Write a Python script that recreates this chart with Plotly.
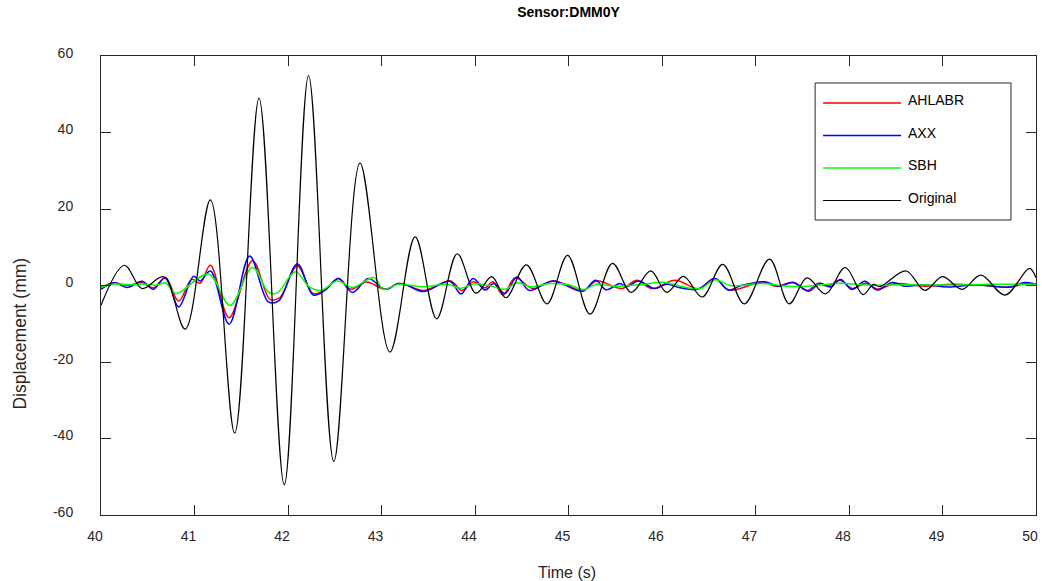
import plotly.graph_objects as go

# Time (s) / displacement (mm) samples at the turning points of each record
t_orig = [40.00, 40.25, 40.44, 40.67, 40.90, 41.17, 41.43, 41.69, 41.96, 42.22,
          42.49, 42.77, 43.09, 43.36, 43.59, 43.81, 44.01, 44.18, 44.33, 44.55,
          44.77, 44.99, 45.23, 45.47, 45.67, 45.88, 46.05, 46.23, 46.43, 46.65,
          46.88, 47.15, 47.36, 47.55, 47.75, 47.96, 48.15, 48.26, 48.33, 48.61,
          48.81, 49.00, 49.21, 49.41, 49.67, 49.93, 50.00]
d_orig = [-5.2, 5.3, -0.8, 2.3, -11.4, 22.4, -38.6, 49.0, -52.1, 54.9,
          -46.0, 32.0, -17.4, 12.7, -8.7, 8.3, -2.0, 2.3, -3.2, 5.4,
          -4.8, 7.9, -7.5, 5.8, -1.8, 3.8, -1.8, 2.4, -3.0, 5.5,
          -4.8, 6.9, -4.8, 2.0, -2.2, 4.7, -2.4, 0.3, -0.3, 3.8,
          -1.3, 2.3, -1.0, 2.7, -2.5, 4.5, 2.0]

t_ahlabr = [40.00, 40.14, 40.28, 40.44, 40.56, 40.69, 40.83, 40.97, 41.06, 41.17,
            41.37, 41.62, 41.81, 41.91, 42.10, 42.27, 42.40, 42.54, 42.67, 42.84,
            43.04, 43.18, 43.27, 43.45, 43.74, 43.86, 43.98, 44.11, 44.19, 44.30,
            44.43, 44.62, 44.84, 45.16, 45.30, 45.57, 45.73, 45.89, 46.14, 46.39,
            46.56, 46.72, 47.08, 47.22, 47.41, 47.55, 47.67, 47.77, 47.90, 48.04,
            48.18, 48.30, 48.50, 48.80, 49.10, 49.40, 49.74, 49.88, 50.00]
d_ahlabr = [-0.5, 0.7, 0.0, 0.7, -0.6, 2.1, -4.1, 1.6, 0.6, 5.3,
            -8.4, 6.5, -3.7, -3.2, 5.1, -2.1, -1.0, 1.8, -1.0, 0.9,
            -1.0, 0.5, 0.1, -1.3, 1.2, -1.3, 1.0, -0.6, 1.0, -2.5,
            2.0, -0.8, 1.2, -1.3, 1.2, -0.8, 1.4, -0.8, 1.4, -0.8,
            1.8, -1.2, 0.9, -0.2, 0.8, -1.3, 0.5, -0.2, 1.4, -0.8,
            0.6, -0.9, 0.5, -0.2, 0.3, 0.1, -0.4, 0.5, 0.2]

t_axx = [40.00, 40.14, 40.28, 40.44, 40.56, 40.69, 40.83, 40.99, 41.06, 41.17,
         41.37, 41.59, 41.79, 41.90, 42.10, 42.27, 42.40, 42.54, 42.69, 42.86,
         43.04, 43.18, 43.27, 43.45, 43.73, 43.85, 43.98, 44.11, 44.20, 44.32,
         44.45, 44.58, 44.83, 45.15, 45.29, 45.40, 45.55, 45.62, 45.75, 45.92,
         46.05, 46.18, 46.38, 46.57, 46.71, 46.85, 47.10, 47.25, 47.40, 47.57,
         47.69, 47.80, 47.91, 48.03, 48.17, 48.30, 48.46, 48.60, 48.80, 49.06,
         49.35, 49.72, 49.88, 50.00]
d_axx = [-1.0, 0.7, -0.5, 1.1, -1.0, 2.1, -5.6, 2.4, 1.2, 3.8,
         -10.1, 7.7, -4.3, -4.0, 5.6, -2.5, -1.2, 1.8, -1.8, 1.8,
         -1.0, 0.5, 0.1, -1.6, 1.1, -2.2, 1.8, -1.2, 0.5, -2.1,
         2.2, -1.3, 1.2, -1.5, 1.4, -1.1, 0.5, -0.3, 1.2, -0.8,
         0.3, -0.5, -1.0, 1.8, -1.2, 0.0, 1.0, -0.2, 0.8, -1.5,
         0.6, -0.4, 1.6, -1.0, 1.1, -1.2, 0.8, -0.2, 0.2, -0.4,
         0.2, -0.4, 0.8, 0.4]

t_sbh = [40.00, 40.14, 40.30, 40.45, 40.60, 40.69, 40.80, 41.15, 41.38, 41.62,
         41.79, 41.88, 42.08, 42.22, 42.35, 42.53, 42.69, 42.92, 43.02, 43.18,
         43.45, 43.70, 43.85, 43.98, 44.15, 44.32, 44.45, 44.60, 44.80, 45.00,
         45.16, 45.30, 45.50, 45.75, 46.03, 46.20, 46.41, 46.57, 46.73, 47.08,
         47.30, 47.55, 47.90, 48.20, 48.60, 49.00, 49.50, 50.00]
d_sbh = [-0.5, 0.4, 0.2, 0.4, 0.1, 0.7, -2.1, 3.0, -5.2, 4.7,
         -1.7, -2.0, 3.6, -0.2, -1.3, 1.2, -0.5, 2.1, -1.0, 0.3,
         -0.3, 0.3, -0.7, 0.4, 0.0, -1.0, 0.7, -0.3, 0.5, 0.2,
         -1.1, 0.3, -0.2, 0.2, 0.8, -0.2, -0.8, 1.5, 0.0, 0.5,
         -0.1, -0.2, 0.6, 0.1, 0.2, 0.1, 0.3, 0.3]

series = [
    ("AHLABR", t_ahlabr, d_ahlabr, "#ff0000", 1.5),
    ("AXX", t_axx, d_axx, "#0000ff", 1.5),
    ("SBH", t_sbh, d_sbh, "#00ff00", 1.5),
    ("Original", t_orig, d_orig, "#000000", 1.2),
]

title_text = "Sensor:DMM0Y"
x_label = "Time (s)"
y_label = "Displacement (mm)"
x_ticks = list(range(40, 51))
y_ticks = [-60, -40, -20, 0, 20, 40, 60]

W, H = 1042, 581
L, R, T, B = 100.5, 1036, 56, 515  # plot box in pixels

fig = go.Figure()
# Original drawn last so it sits on top
for name, t, d, color, width in series:
    fig.add_trace(go.Scatter(
        x=t, y=d, name=name, mode="lines",
        line=dict(color=color, width=width, shape="spline", smoothing=1.0),
        showlegend=False,
    ))


def px(xp):
    return (xp - L) / (R - L)


def py(yp):
    return (B - yp) / (B - T)


# Boxed legend with long line samples
shapes = [dict(type="rect", xref="paper", yref="paper",
               x0=px(815), x1=px(1011), y0=py(220), y1=py(83),
               line=dict(color="#262626", width=1), fillcolor="white", layer="above")]
annotations = []
row_y = [103, 135.5, 168, 200.5]
for (name, _, _, color, width), ry in zip(series, row_y):
    shapes.append(dict(type="line", xref="paper", yref="paper",
                       x0=px(823), x1=px(901), y0=py(ry), y1=py(ry),
                       line=dict(color=color, width=width), layer="above"))
    annotations.append(dict(xref="paper", yref="paper", x=px(906), y=py(ry - 3),
                            text=name, showarrow=False, xanchor="left", yanchor="middle",
                            font=dict(size=14, color="#000000")))

# Axis labels placed at fixed positions around the box
annotations.append(dict(xref="paper", yref="paper", x=px(19), y=py(334),
                        text=y_label, textangle=-90, showarrow=False,
                        xanchor="center", yanchor="middle",
                        font=dict(size=17.5, color="#262626")))
annotations.append(dict(xref="paper", yref="paper", x=px(567), y=py(572),
                        text=x_label, showarrow=False,
                        xanchor="center", yanchor="middle",
                        font=dict(size=16, color="#262626")))

axis_common = dict(
    showline=True, linecolor="#262626", linewidth=1, mirror="allticks",
    ticks="inside", ticklen=10, tickcolor="#262626", tickwidth=1,
    showgrid=False, zeroline=False, automargin=False,
    tickfont=dict(size=14, color="#262626"),
)

fig.update_layout(
    width=W, height=H,
    margin=dict(l=L, r=W - R, t=T, b=H - B, autoexpand=False),
    paper_bgcolor="white", plot_bgcolor="white",
    font=dict(family="Liberation Sans, Arial, sans-serif", color="#262626"),
    title=dict(text="<b>" + title_text + "</b>", x=0.5, xref="paper", xanchor="center",
               y=1 - 12 / H, yref="container", yanchor="middle",
               font=dict(size=14, color="#000000")),
    xaxis=dict(range=[40, 50], tickvals=x_ticks, ticktext=[str(v) for v in x_ticks],
               ticklabelstandoff=8, ticklabelshift=-6, **axis_common),
    yaxis=dict(range=[-60, 60], tickvals=y_ticks, ticktext=[str(v) for v in y_ticks],
               ticklabelstandoff=24, ticklabelshift=-3, **axis_common),
    shapes=shapes, annotations=annotations,
)

fig.write_html("out.html")
